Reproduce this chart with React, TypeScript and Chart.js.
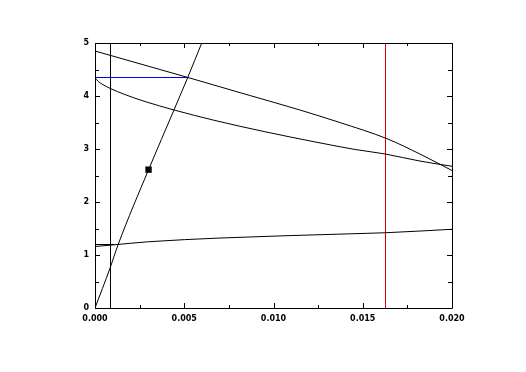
import React, { useEffect, useRef } from "react";
import { Chart, registerables } from "chart.js";

Chart.register(...registerables);

const xTicks = [0, 0.005, 0.01, 0.015, 0.02];
const yTicks = [0, 1, 2, 3, 4, 5];

const steepX = [0, 0.00084, 0.0013, 0.003, 0.00443, 0.00519, 0.00598];
const steepY = [0, 0.75, 1.2, 2.61, 3.74, 4.345, 5.0];

const upperX = [0, 0.00521, 0.00868, 0.01148, 0.01373, 0.01636, 0.01821, 0.02];
const upperY = [4.849, 4.349, 4.009, 3.736, 3.498, 3.194, 2.904, 2.594];

const lowerX = [0, 0.000185, 0.000448, 0.00084, 0.00168, 0.0028, 0.00443, 0.00672, 0.00952, 0.01232, 0.01457, 0.01625, 0.01821, 0.02];
const lowerY = [4.345, 4.273, 4.214, 4.145, 4.027, 3.896, 3.736, 3.538, 3.326, 3.134, 2.991, 2.906, 2.772, 2.674];

const flatX = [0, 0.001, 0.003, 0.007, 0.0143, 0.01627, 0.02];
const flatY = [1.16, 1.19, 1.25, 1.32, 1.4, 1.42, 1.485];

const leftVLineX = 0.000868;
const redVLineX = 0.016275;
const blueHLineY = 4.349;
const blueHLineEndX = 0.00519;
const shortHLineY = 1.198;
const shortHLineEndX = 0.0011;
const markerX = [0.003];
const markerY = [2.61];

const zip = (xs: number[], ys: number[]) => xs.map((x, i) => ({ x, y: ys[i] }));

const ticksPlugin = {
  id: "insideTicks",
  afterDraw(chart: any) {
    const { ctx, chartArea: a, scales } = chart;
    const xs = scales.x;
    const ys = scales.y;
    ctx.save();
    ctx.strokeStyle = "#000";
    ctx.lineWidth = 1;
    ctx.beginPath();
    ctx.rect(Math.round(a.left) + 0.5, Math.round(a.top) + 0.5, Math.round(a.right - a.left), Math.round(a.bottom - a.top));
    ctx.stroke();
    ctx.beginPath();
    const drawX = (v: number, len: number) => {
      const px = Math.round(xs.getPixelForValue(v)) + 0.5;
      ctx.moveTo(px, a.bottom);
      ctx.lineTo(px, a.bottom - len);
      ctx.moveTo(px, a.top);
      ctx.lineTo(px, a.top + len);
    };
    const drawY = (v: number, len: number) => {
      const py = Math.round(ys.getPixelForValue(v)) + 0.5;
      ctx.moveTo(a.left, py);
      ctx.lineTo(a.left + len, py);
      ctx.moveTo(a.right, py);
      ctx.lineTo(a.right - len, py);
    };
    for (let i = 0; i < xTicks.length; i++) {
      drawX(xTicks[i], 5);
      if (i < xTicks.length - 1) drawX((xTicks[i] + xTicks[i + 1]) / 2, 3);
    }
    for (let i = 0; i < yTicks.length; i++) {
      drawY(yTicks[i], 5);
      if (i < yTicks.length - 1) drawY((yTicks[i] + yTicks[i + 1]) / 2, 4);
    }
    ctx.stroke();
    ctx.restore();
  },
};

export default function App() {
  const ref = useRef<HTMLCanvasElement>(null);
  useEffect(() => {
    document.body.style.margin = "0";
    const line = (data: any[], color = "#000", mono = false) => ({
      data,
      showLine: true,
      borderColor: color,
      backgroundColor: color,
      borderWidth: 1,
      pointRadius: 0,
      fill: false,
      cubicInterpolationMode: mono ? "monotone" : "default",
      tension: 0,
    });
    const chart = new Chart(ref.current!, {
      type: "scatter",
      data: {
        datasets: [
          line(zip(steepX, steepY), "#000", true),
          line(zip(upperX, upperY), "#000", true),
          line(zip(lowerX, lowerY), "#000", true),
          line(zip(flatX, flatY), "#000", true),
          line([{ x: leftVLineX, y: 0 }, { x: leftVLineX, y: 5 }]),
          line([{ x: 0, y: shortHLineY }, { x: shortHLineEndX, y: shortHLineY }]),
          line([{ x: redVLineX, y: 0 }, { x: redVLineX, y: 5 }], "#e00000"),
          line([{ x: 0, y: blueHLineY }, { x: blueHLineEndX, y: blueHLineY }], "#0000e0"),
          {
            data: zip(markerX, markerY),
            showLine: false,
            pointStyle: "rect",
            pointRadius: 4.5,
            backgroundColor: "#000",
            borderColor: "#000",
            borderWidth: 0,
          } as any,
        ] as any,
      },
      options: {
        animation: false,
        responsive: false,
        layout: { padding: { left: 0, right: 74, top: 43, bottom: 0 } },
        plugins: { legend: { display: false }, tooltip: { enabled: false } },
        scales: {
          x: {
            type: "linear",
            min: 0,
            max: 0.02,
            afterFit: (s: any) => { s.height = 64; },
            afterBuildTicks: (s: any) => { s.ticks = xTicks.map((v) => ({ value: v })); },
            grid: { display: false, drawTicks: false },
            border: { display: false },
            ticks: {
              padding: 6,
              maxRotation: 0,
              color: "#000",
              font: { family: "DejaVu Sans", weight: "bold", size: 8 },
              callback: (v: any) => Number(v).toFixed(3),
            },
          },
          y: {
            type: "linear",
            min: 0,
            max: 5,
            afterFit: (s: any) => { s.width = 95; },
            afterBuildTicks: (s: any) => { s.ticks = yTicks.map((v) => ({ value: v })); },
            grid: { display: false, drawTicks: false },
            border: { display: false },
            ticks: {
              padding: 6,
              color: "#000",
              font: { family: "DejaVu Sans", weight: "bold", size: 8 },
              callback: (v: any) => String(v),
            },
          },
        },
      } as any,
      plugins: [ticksPlugin],
    });
    return () => chart.destroy();
  }, []);
  return (
    <div style={{ position: "absolute", left: 0, top: 0, width: 526, height: 372, background: "#fff" }}>
      <canvas ref={ref} width={526} height={372} />
    </div>
  );
}
